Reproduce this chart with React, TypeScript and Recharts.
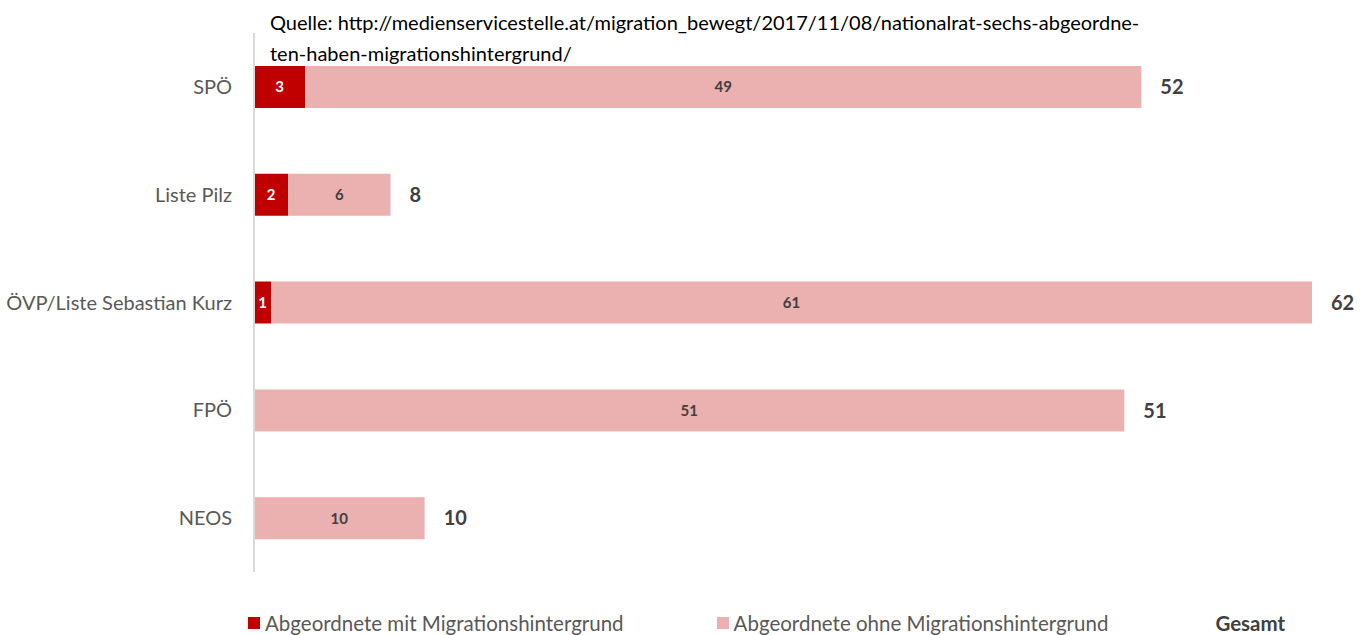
import { BarChart, Bar, XAxis, YAxis, LabelList } from 'recharts';

const parteien = ['SPÖ', 'Liste Pilz', 'ÖVP/Liste Sebastian Kurz', 'FPÖ', 'NEOS'];
const mitMigration = [3, 2, 1, 0, 0];
const ohneMigration = [49, 6, 61, 51, 10];
const gesamt = [52, 8, 62, 51, 10];

const serien = [
  { key: 'mit', name: 'Abgeordnete mit Migrationshintergrund', color: '#c00000' },
  { key: 'ohne', name: 'Abgeordnete ohne Migrationshintergrund', color: '#ebb1b1' },
];

const quelle = [
  'Quelle: http://medienservicestelle.at/migration_bewegt/2017/11/08/nationalrat-sechs-abgeordne-',
  'ten-haben-migrationshintergrund/',
];

const data = parteien.map((name, i) => ({
  name,
  mit: mitMigration[i],
  ohne: ohneMigration[i],
  total: gesamt[i],
}));

const font = 'Lato, "Open Sans", sans-serif';

export default function App() {
  return (
    <div style={{ position: 'absolute', left: 0, top: 0, width: 1368, height: 635, background: '#fff', fontFamily: font }}>
      <div style={{ position: 'absolute', left: 270, top: 7, fontSize: 20, lineHeight: '31px', color: '#000', whiteSpace: 'nowrap' }}>
        {quelle.map((l) => (
          <div key={l}>{l}</div>
        ))}
      </div>
      <BarChart
        width={1368}
        height={635}
        data={data}
        layout="vertical"
        margin={{ top: 33, right: 56, bottom: 63, left: 0 }}
        barSize={42}
      >
        <XAxis type="number" domain={[0, 62]} hide />
        <YAxis
          type="category"
          dataKey="name"
          width={254}
          tickLine={false}
          tickSize={0}
          tickMargin={22}
          axisLine={{ stroke: '#d9d9d9', strokeWidth: 2 }}
          tick={{ fill: '#595959', fontSize: 20, fontFamily: font }}
        />
        <Bar dataKey="mit" stackId="a" fill={serien[0].color} isAnimationActive={false}>
          <LabelList
            dataKey="mit"
            position="center"
            formatter={(v: any) => (v ? v : '')}
            fill="#fff"
            fontSize={15}
            fontWeight="bold"
            fontFamily={font}
          />
        </Bar>
        <Bar dataKey="ohne" stackId="a" fill={serien[1].color} isAnimationActive={false}>
          <LabelList
            dataKey="ohne"
            position="center"
            fill="#404040"
            fontSize={15}
            fontWeight="bold"
            fontFamily={font}
          />
          <LabelList
            dataKey="total"
            position="right"
            offset={19}
            fill="#404040"
            fontSize={20}
            fontWeight="bold"
            fontFamily={font}
          />
        </Bar>
      </BarChart>
      <div style={{ position: 'absolute', top: 611, left: 248, fontSize: 20.5, color: '#595959', display: 'flex', alignItems: 'center', whiteSpace: 'nowrap' }}>
        {serien.map((s, i) => (
          <div key={s.key} style={{ display: 'flex', alignItems: 'center', marginRight: i === 0 ? 93 : 107 }}>
            <span style={{ display: 'inline-block', width: 12, height: 12, background: s.color, marginRight: 5 }} />
            <span>{s.name}</span>
          </div>
        ))}
        <span style={{ fontWeight: 'bold', color: '#404040' }}>Gesamt</span>
      </div>
    </div>
  );
}
